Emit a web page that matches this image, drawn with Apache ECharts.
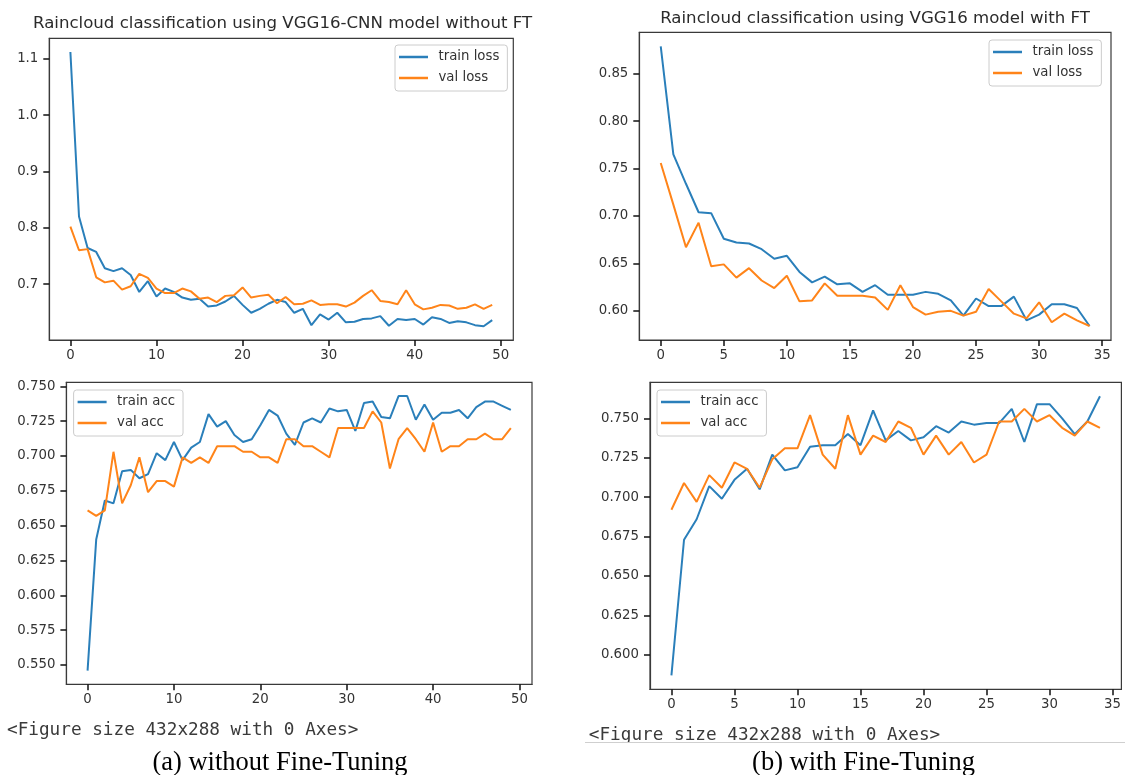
<!DOCTYPE html>
<html>
<head>
<meta charset="utf-8">
<script src="https://cdn.jsdelivr.net/npm/echarts@6/dist/echarts.min.js"></script>
<style>
  html, body { margin: 0; padding: 0; background: #ffffff; }
  #chart { width: 1125px; height: 775px; }
</style>
</head>
<body>
<div id="chart"></div>
<script>
// ---------- DATA ----------
// (a) without Fine-Tuning: 50 epochs
const trainLossA = [1.112,0.820,0.764,0.757,0.728,0.723,0.728,0.716,0.686,0.705,
  0.678,0.692,0.686,0.676,0.672,0.674,0.660,0.662,0.669,0.679,
  0.663,0.649,0.656,0.665,0.672,0.668,0.649,0.656,0.627,0.646,
  0.637,0.649,0.632,0.633,0.638,0.639,0.643,0.626,0.638,0.636,
  0.638,0.628,0.641,0.638,0.631,0.634,0.632,0.627,0.625,0.636];
const valLossA = [0.802,0.760,0.762,0.712,0.703,0.706,0.690,0.696,0.718,0.711,
  0.692,0.684,0.684,0.692,0.687,0.674,0.676,0.668,0.679,0.680,
  0.694,0.676,0.679,0.681,0.666,0.677,0.664,0.665,0.671,0.663,
  0.664,0.664,0.660,0.667,0.679,0.689,0.670,0.668,0.664,0.689,
  0.664,0.655,0.658,0.663,0.662,0.656,0.658,0.664,0.656,0.663];
const trainAccA = [0.546,0.640,0.668,0.666,0.689,0.690,0.684,0.687,0.702,0.697,
  0.710,0.697,0.706,0.710,0.730,0.721,0.725,0.715,0.710,0.712,
  0.722,0.733,0.729,0.716,0.708,0.724,0.727,0.724,0.734,0.732,
  0.733,0.718,0.738,0.739,0.728,0.727,0.743,0.743,0.726,0.737,
  0.726,0.731,0.731,0.733,0.727,0.735,0.739,0.739,0.736,0.733];
const valAccA = [0.661,0.657,0.661,0.703,0.666,0.679,0.699,0.674,0.682,0.682,
  0.678,0.699,0.695,0.699,0.695,0.707,0.707,0.707,0.703,0.703,
  0.699,0.699,0.695,0.712,0.712,0.707,0.707,0.703,0.699,0.720,
  0.720,0.720,0.720,0.732,0.724,0.691,0.712,0.720,0.712,0.703,
  0.724,0.703,0.707,0.707,0.712,0.712,0.716,0.712,0.712,0.720];

// (b) with Fine-Tuning: 35 epochs
const trainLossB = [0.879,0.765,0.734,0.704,0.703,0.676,0.672,0.671,0.665,0.655,
  0.658,0.641,0.630,0.636,0.628,0.629,0.620,0.627,0.617,0.617,
  0.617,0.620,0.618,0.611,0.595,0.613,0.605,0.605,0.615,0.590,
  0.596,0.607,0.607,0.603,0.584];
const valLossB = [0.756,0.712,0.667,0.693,0.647,0.649,0.635,0.645,0.632,0.624,
  0.637,0.610,0.611,0.629,0.616,0.616,0.616,0.614,0.601,0.627,
  0.604,0.596,0.599,0.600,0.595,0.599,0.623,0.610,0.597,0.592,
  0.609,0.588,0.597,0.590,0.584];
const trainAccB = [0.587,0.673,0.686,0.707,0.699,0.711,0.718,0.705,0.727,0.717,
  0.719,0.732,0.733,0.733,0.740,0.733,0.755,0.736,0.742,0.736,
  0.738,0.745,0.741,0.748,0.746,0.747,0.747,0.756,0.735,0.759,
  0.759,0.750,0.740,0.748,0.764];
const valAccB = [0.692,0.709,0.697,0.714,0.706,0.722,0.718,0.706,0.724,0.731,
  0.731,0.752,0.727,0.718,0.752,0.727,0.739,0.735,0.748,0.744,
  0.727,0.739,0.727,0.735,0.722,0.727,0.748,0.748,0.756,0.748,
  0.752,0.744,0.739,0.748,0.744];

// tick values
const xTicksA = [0,10,20,30,40,50];
const xTicksB = [0,5,10,15,20,25,30,35];
const lossTicksA = [0.7,0.8,0.9,1.0,1.1];
const lossTicksB = [0.60,0.65,0.70,0.75,0.80,0.85];
const accTicksA = [0.550,0.575,0.600,0.625,0.650,0.675,0.700,0.725,0.750];
const accTicksB = [0.600,0.625,0.650,0.675,0.700,0.725,0.750];

// texts
const titleA = 'Raincloud classification using VGG16-CNN model without FT';
const titleB = 'Raincloud classification using VGG16 model with FT';
const figText = '<Figure size 432x288 with 0 Axes>';
const captionA = '(a) without Fine-Tuning';
const captionB = '(b) with Fine-Tuning';

// ---------- HELPERS ----------
const BLUE = '#2a7fba', ORANGE = '#ff8419';
const AXC = '#3a3a3a', LBL = '#333333';
const FONT = '"DejaVu Sans", sans-serif';

function pts(arr) { return arr.map((v, i) => [i, v]); }
function yExtent(arrs) {
  const all = [].concat(...arrs);
  const mn = Math.min(...all), mx = Math.max(...all);
  const p = (mx - mn) * 0.05;
  return [mn - p, mx + p];
}
function xExtent(n) {
  const p = (n - 1) * 0.05;
  return [-p, n - 1 + p];
}

const gridDefs = [
  { left: 49.3, top: 38.3, width: 464, height: 301.7 },
  { left: 639.3, top: 32.3, width: 471.7, height: 307.7 },
  { left: 66.4, top: 382.3, width: 465.6, height: 302 },
  { left: 650, top: 382.3, width: 471.4, height: 307 }
];

const panels = [
  { n: trainLossA.length, ys: [trainLossA, valLossA], names: ['train loss','val loss'], xt: xTicksA, yt: lossTicksA, dec: 1 },
  { n: trainLossB.length, ys: [trainLossB, valLossB], names: ['train loss','val loss'], xt: xTicksB, yt: lossTicksB, dec: 2 },
  { n: trainAccA.length, ys: [trainAccA, valAccA], names: ['train acc','val acc'], xt: xTicksA, yt: accTicksA, dec: 3 },
  { n: trainAccB.length, ys: [trainAccB, valAccB], names: ['train acc','val acc'], xt: xTicksB, yt: accTicksB, dec: 3 }
];

const grid = gridDefs.map(g => Object.assign({ show: true, borderColor: AXC, borderWidth: 1.2 }, g));

const xAxis = panels.map((p, i) => {
  const e = xExtent(p.n);
  return {
    type: 'value', gridIndex: i, min: e[0], max: e[1],
    splitLine: { show: false },
    axisLine: { show: true, onZero: false, lineStyle: { color: AXC, width: 1.2 } },
    axisTick: { show: true, length: 6, customValues: p.xt, lineStyle: { color: '#111', width: 1.5 } },
    axisLabel: { customValues: p.xt, margin: 9, fontSize: 13.3, fontFamily: FONT, color: LBL,
      formatter: v => String(Math.round(v)) }
  };
});

const yAxis = panels.map((p, i) => {
  const e = yExtent(p.ys);
  return {
    type: 'value', gridIndex: i, min: e[0], max: e[1],
    splitLine: { show: false },
    axisLine: { show: true, onZero: false, lineStyle: { color: AXC, width: 1.2 } },
    axisTick: { show: true, length: 6, customValues: p.yt, lineStyle: { color: '#111', width: 1.5 } },
    axisLabel: { customValues: p.yt, margin: 11, fontSize: 13.3, fontFamily: FONT, color: LBL,
      formatter: v => Number(v).toFixed(p.dec) }
  };
});

const series = [];
panels.forEach((p, i) => {
  [BLUE, ORANGE].forEach((c, k) => {
    series.push({
      type: 'line', name: p.names[k], xAxisIndex: i, yAxisIndex: i,
      data: pts(p.ys[k]), showSymbol: false, symbol: 'none',
      lineStyle: { color: c, width: 2 }, itemStyle: { color: c },
      animation: false
    });
  });
});

const legendPos = [
  { left: 395, top: 45 },
  { left: 989, top: 40 },
  { left: 73.6, top: 390 },
  { left: 657, top: 390 }
];
const legend = panels.map((p, i) => Object.assign({
  orient: 'vertical', data: p.names, icon: 'rect', itemWidth: 29, itemHeight: 2.5, itemGap: 5,
  padding: [4, 8, 5, 4], backgroundColor: 'rgba(255,255,255,0.8)', borderColor: '#cccccc',
  borderWidth: 1, borderRadius: 3, selectedMode: false,
  textStyle: { fontSize: 13.3, fontFamily: FONT, color: LBL, lineHeight: 16, padding: [0, 0, 0, 5.5] }
}, legendPos[i]));

function txt(x, y, text, size, family, color, align) {
  return { type: 'text', x: x, y: y, z: 10, silent: true,
    style: { text: text, fontSize: size, fontFamily: family, fill: color,
      align: align, textAlign: align, verticalAlign: 'middle', textVerticalAlign: 'middle' } };
}

const graphic = [
  txt(282.6, 23.3, titleA, 16.6, FONT, '#2b2b2b', 'center'),
  txt(875, 18.3, titleB, 16.6, FONT, '#2b2b2b', 'center'),
  txt(7, 730, figText, 17.7, '"DejaVu Sans Mono", monospace', '#3a3a3a', 'left'),
  txt(588.8, 735, figText, 17.7, '"DejaVu Sans Mono", monospace', '#3a3a3a', 'left'),
  { type: 'rect', z: 11, silent: true, shape: { x: 585, y: 743, width: 540, height: 5 }, style: { fill: '#ffffff' } },
  { type: 'line', z: 12, silent: true, shape: { x1: 585, y1: 742.5, x2: 1125, y2: 742.5 }, style: { stroke: '#cfcfcf', lineWidth: 1 } },
  txt(280, 762.7, captionA, 26.5, '"Liberation Serif", "Times New Roman", serif', '#000000', 'center'),
  txt(863.5, 762.7, captionB, 26.5, '"Liberation Serif", "Times New Roman", serif', '#000000', 'center')
];

const chart = echarts.init(document.getElementById('chart'), null, { renderer: 'canvas' });
chart.setOption({
  animation: false,
  backgroundColor: '#ffffff',
  grid: grid,
  xAxis: xAxis,
  yAxis: yAxis,
  legend: legend,
  series: series,
  graphic: graphic
});
</script>
</body>
</html>
